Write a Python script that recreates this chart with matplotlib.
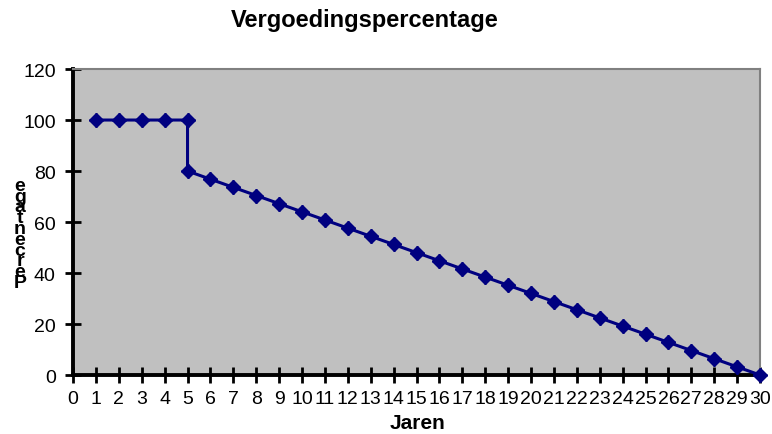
import matplotlib
matplotlib.use('Agg')
import matplotlib.pyplot as plt

# jaren en vergoedingspercentage (jaar 5 komt twee keer voor: sprong van 100 naar 80)
jaren = [1, 2, 3, 4, 5, 5, 6, 7, 8, 9, 10, 11, 12, 13, 14, 15, 16, 17, 18,
         19, 20, 21, 22, 23, 24, 25, 26, 27, 28, 29, 30]
percentage = [100, 100, 100, 100, 100, 80, 76.8, 73.6, 70.4, 67.2, 64, 60.8,
              57.6, 54.4, 51.2, 48, 44.8, 41.6, 38.4, 35.2, 32, 28.8, 25.6,
              22.4, 19.2, 16, 12.8, 9.6, 6.4, 3.2, 0]
xticks = list(range(0, 31))
yticks = [0, 20, 40, 60, 80, 100, 120]

plt.rcParams['font.family'] = ['Liberation Sans', 'DejaVu Sans']

fig = plt.figure(figsize=(7.72, 4.35), dpi=100)
ax = fig.add_axes([0.0946, 0.1356, 0.8899, 0.7034])
ax.set_facecolor('#c0c0c0')

navy = '#000080'
ax.plot(jaren, percentage, '-', color=navy, lw=2.2, marker='D', ms=7.5,
        mfc=navy, mec=navy, clip_on=False, zorder=5)
# Excel-achtige ruit met puntjes: kruisje eroverheen
ax.plot(jaren, percentage, ls='none', color=navy, marker='+', ms=10, mew=1.8,
        clip_on=False, zorder=6)

ax.set_xlim(0, 30)
ax.set_ylim(0, 120)
ax.set_xticks(xticks)
ax.set_yticks(yticks)
ax.tick_params(direction='inout', length=11, width=2, colors='black')
ax.tick_params(axis='x', pad=5)
ax.tick_params(axis='y', pad=7)
for lab in ax.get_xticklabels() + ax.get_yticklabels():
    lab.set_family(['Liberation Sans Narrow', 'Liberation Sans'])
    lab.set_fontsize(14)

for side in ['left', 'bottom']:
    ax.spines[side].set_linewidth(2.8)
    ax.spines[side].set_color('black')
for side in ['top', 'right']:
    ax.spines[side].set_linewidth(1.5)
    ax.spines[side].set_color('#808080')

fig.text(0.473, 0.953, 'Vergoedingspercentage', ha='center', va='center',
         fontsize=17, fontweight='bold')
fig.text(0.541, 0.026, 'Jaren', ha='center', va='center',
         fontsize=15, fontweight='bold')
# y-as titel: letters rechtop gestapeld, van onder naar boven
fig.text(0.026, 0.46, '\n'.join(reversed('Percentage')), ha='center',
         va='center', fontsize=14, fontweight='bold', linespacing=0.52)

fig.savefig('out.png', dpi=100)
